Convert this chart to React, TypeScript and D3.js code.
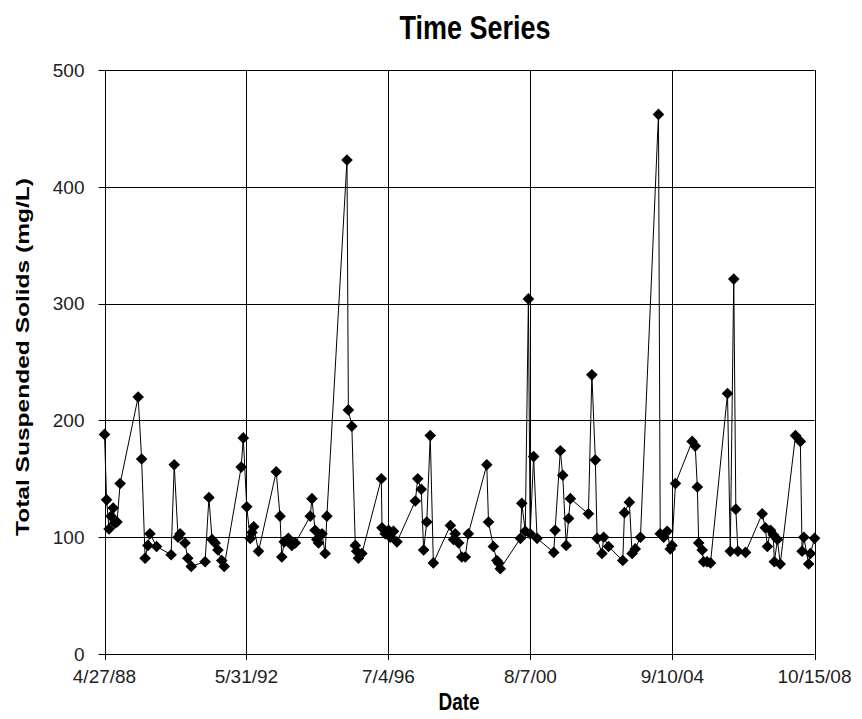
import React, { useEffect, useRef } from "react";
import * as d3 from "d3";

// sample dates as decimal years
const sampleYears = [
  1988.32, 1988.38, 1988.45, 1988.51, 1988.57, 1988.62, 1988.68, 1988.77, 1989.29, 1989.39,
  1989.49, 1989.57, 1989.63, 1989.82, 1990.24, 1990.33, 1990.44, 1990.5, 1990.64, 1990.72,
  1990.82, 1991.22, 1991.33, 1991.42, 1991.51, 1991.59, 1991.7, 1991.77, 1992.26, 1992.32,
  1992.42, 1992.52, 1992.57, 1992.62, 1992.76, 1993.27, 1993.38, 1993.43, 1993.5, 1993.62,
  1993.72, 1993.82, 1994.25, 1994.3, 1994.39, 1994.44, 1994.49, 1994.59, 1994.68, 1994.73,
  1995.31, 1995.35, 1995.45, 1995.55, 1995.59, 1995.64, 1995.74, 1996.3, 1996.32, 1996.41,
  1996.51, 1996.56, 1996.65, 1996.75, 1997.28, 1997.35, 1997.45, 1997.52, 1997.61, 1997.71,
  1997.8, 1998.29, 1998.38, 1998.43, 1998.53, 1998.62, 1998.72, 1998.81, 1999.34, 1999.39,
  1999.53, 1999.63, 1999.68, 1999.73, 2000.31, 2000.35, 2000.45, 2000.54, 2000.59, 2000.69,
  2000.79, 2001.27, 2001.31, 2001.46, 2001.53, 2001.63, 2001.7, 2001.75, 2002.27, 2002.37,
  2002.47, 2002.52, 2002.66, 2002.71, 2002.85, 2003.26, 2003.31, 2003.45, 2003.53, 2003.62,
  2003.77, 2004.29, 2004.34, 2004.44, 2004.54, 2004.63, 2004.68, 2004.78, 2005.26, 2005.35,
  2005.41, 2005.45, 2005.55, 2005.59, 2005.69, 2005.79, 2006.28, 2006.36, 2006.46, 2006.52,
  2006.58, 2006.8, 2007.28, 2007.37, 2007.43, 2007.52, 2007.6, 2007.63, 2007.72, 2007.8,
  2008.24, 2008.38, 2008.43, 2008.48, 2008.62, 2008.67, 2008.79,
];

// total suspended solids, mg/L
const tssValues = [
  188, 132, 107, 118, 125, 112, 113, 146, 220, 167,
  82, 93, 103, 92, 85, 162, 100, 103, 95, 82,
  75, 79, 134, 98, 95, 89, 80, 75, 160, 185,
  126, 99, 104, 109, 88, 156, 118, 83, 96, 99,
  93, 95, 118, 133, 106, 98, 95, 103, 86, 118,
  423, 209, 195, 93, 88, 82, 86, 150, 108, 103,
  106, 100, 105, 96, 131, 150, 141, 89, 113, 187,
  78, 110, 98, 103, 95, 83, 83, 103, 162, 113,
  92, 80, 78, 73, 99, 129, 105, 304, 103, 169,
  99, 87, 106, 174, 153, 93, 116, 133, 120, 239,
  166, 99, 86, 100, 92, 80, 121, 130, 86, 90,
  100, 462, 103, 100, 105, 90, 93, 146, 182, 178,
  143, 95, 89, 79, 79, 78, 223, 88, 321, 124,
  88, 87, 120, 108, 92, 106, 102, 79, 98, 77,
  187, 182, 88, 100, 77, 86, 99,
];

const tickDates = ["1988-04-27", "1992-05-31", "1996-07-04", "2000-08-07", "2004-09-10", "2008-10-15"];
const tickLabels = ["4/27/88", "5/31/92", "7/4/96", "8/7/00", "9/10/04", "10/15/08"];
const yTicks = [0, 100, 200, 300, 400, 500];

const yearToDate = (y: number) => new Date((y - 1970) * 365.2425 * 864e5);

const TimeSeriesChart: React.FC = () => {
  const svgRef = useRef<SVGSVGElement | null>(null);

  useEffect(() => {
    if (!svgRef.current) return;

    const width = 862;
    const height = 719;
    const margin = { top: 70, right: 47.5, bottom: 65, left: 104.5 };
    const font = "'Liberation Sans', Arial, sans-serif";
    const stretch = 1.22; // the original text looks a bit tall

    d3.select(svgRef.current).selectAll("*").remove();
    const svg = d3
      .select(svgRef.current)
      .attr("width", width)
      .attr("height", height)
      .style("font-family", font);

    const tDates = tickDates.map((d) => new Date(d + "T00:00:00Z"));
    const data = sampleYears.map((y, i) => ({ date: yearToDate(y), value: tssValues[i] }));

    const xScale = d3
      .scaleTime()
      .domain([tDates[0], tDates[tDates.length - 1]])
      .range([margin.left, width - margin.right]);

    const yScale = d3
      .scaleLinear()
      .domain([0, 500])
      .range([height - margin.bottom, margin.top]);

    // grid
    svg
      .append("g")
      .selectAll("line")
      .data(yTicks)
      .enter()
      .append("line")
      .attr("x1", margin.left - 6)
      .attr("x2", width - margin.right)
      .attr("y1", (d) => Math.round(yScale(d)) + 0.5)
      .attr("y2", (d) => Math.round(yScale(d)) + 0.5)
      .attr("stroke", "#000")
      .attr("stroke-width", 1);

    svg
      .append("g")
      .selectAll("line")
      .data(tDates)
      .enter()
      .append("line")
      .attr("x1", (d) => Math.round(xScale(d)) + 0.5)
      .attr("x2", (d) => Math.round(xScale(d)) + 0.5)
      .attr("y1", margin.top)
      .attr("y2", height - margin.bottom + 6)
      .attr("stroke", "#000")
      .attr("stroke-width", 1);

    // tick labels
    svg
      .append("g")
      .selectAll("text")
      .data(yTicks)
      .enter()
      .append("text")
      .attr("x", margin.left - 20)
      .attr("y", (d) => yScale(d))
      .attr("dy", "0.36em")
      .attr("text-anchor", "end")
      .attr("fill", "#222")
      .style("font-size", "19px")
      .text((d) => d);

    svg
      .append("g")
      .selectAll("text")
      .data(tDates)
      .enter()
      .append("text")
      .attr("x", (d) => xScale(d))
      .attr("y", height - margin.bottom + 29)
      .attr("text-anchor", "middle")
      .attr("fill", "#222")
      .style("font-size", "19px")
      .text((_, i) => tickLabels[i]);

    // series
    const line = d3
      .line<{ date: Date; value: number }>()
      .x((d) => xScale(d.date))
      .y((d) => yScale(d.value));

    svg
      .append("path")
      .datum(data)
      .attr("d", line)
      .attr("fill", "none")
      .attr("stroke", "#000")
      .attr("stroke-width", 1);

    const diamond = d3.symbol().type(d3.symbolDiamond2).size(86);
    svg
      .append("g")
      .selectAll("path")
      .data(data)
      .enter()
      .append("path")
      .attr("transform", (d) => `translate(${xScale(d.date)},${yScale(d.value)})`)
      .attr("d", diamond()!)
      .attr("fill", "#000");

    // titles
    svg
      .append("text")
      .attr("transform", `translate(475,39) scale(1,${stretch})`)
      .attr("text-anchor", "middle")
      .style("font-size", "27px")
      .style("font-weight", "bold")
      .text("Time Series");

    svg
      .append("text")
      .attr("transform", `translate(459,710) scale(1,${stretch})`)
      .attr("text-anchor", "middle")
      .style("font-size", "19px")
      .style("font-weight", "bold")
      .text("Date");

    svg
      .append("text")
      .attr("transform", `translate(29, 357) rotate(-90)`)
      .attr("text-anchor", "middle")
      .attr("textLength", 358)
      .attr("lengthAdjust", "spacingAndGlyphs")
      .style("font-size", "19px")
      .style("font-weight", "bold")
      .text("Total Suspended Solids (mg/L)");
  }, []);

  return (
    <div style={{ position: "absolute", left: 0, top: 0, background: "#fff" }}>
      <svg ref={svgRef}></svg>
    </div>
  );
};

export default TimeSeriesChart;
